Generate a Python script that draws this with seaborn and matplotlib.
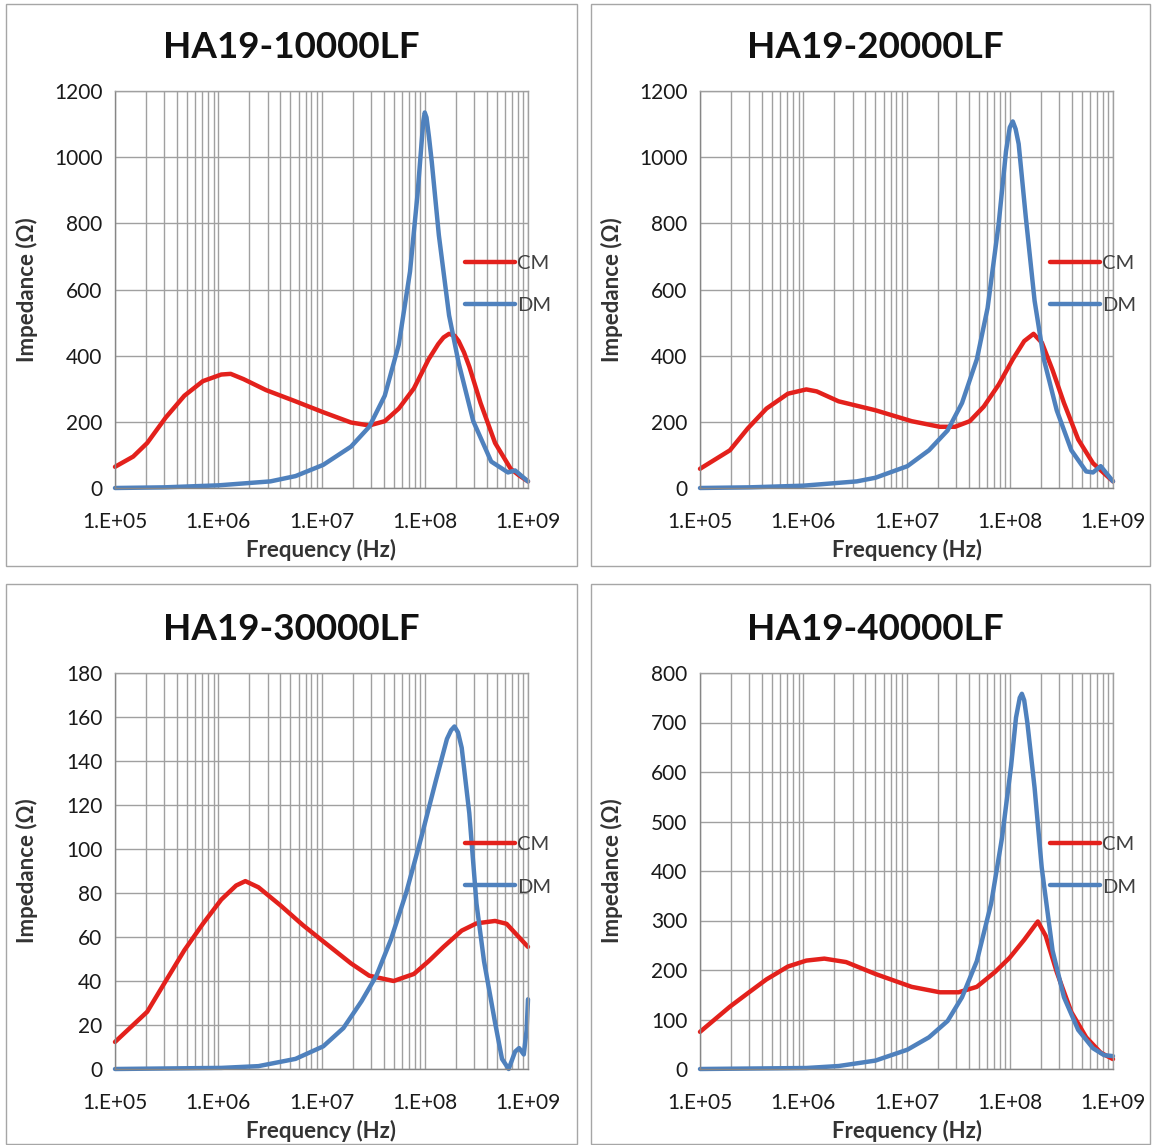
import numpy as np
import pandas as pd
import matplotlib
matplotlib.use("Agg")
import matplotlib.pyplot as plt
import seaborn as sns
from matplotlib.ticker import LogLocator
from matplotlib.patches import Rectangle

sns.set_theme(style="white")
plt.rcParams['font.family'] = ['Lato', 'DejaVu Sans']

# data (frequency in Hz, impedance in ohm)
titles = ['HA19-10000LF', 'HA19-20000LF', 'HA19-30000LF', 'HA19-40000LF']
xtick_vals = [1e5, 1e6, 1e7, 1e8, 1e9]
xtick_labels = ['1.E+05', '1.E+06', '1.E+07', '1.E+08', '1.E+09']
y_max = [1200, 1200, 180, 800]
y_step = [200, 200, 20, 100]

f_cm1 = [1e5, 1.5e5, 2.05e5, 3.1e5, 4.7e5, 7.1e5, 1.07e6, 1.32e6, 1.76e6, 2.9e6, 5.6e6, 1.04e7, 1.93e7,
         2.9e7, 4.1e7, 5.6e7, 7.85e7, 1.09e8, 1.35e8, 1.52e8, 1.72e8, 1.95e8, 2.13e8, 2.4e8, 2.7e8, 3.47e8,
         4.8e8, 6.8e8, 8.2e8, 1e9]
z_cm1 = [64, 95, 136, 213, 279, 323, 343, 345, 329, 296, 262, 229, 198,
         189, 202, 240, 301, 389, 435, 455, 466, 460, 444, 410, 367, 257,
         136, 58, 38, 20]
f_dm1 = [1e5, 3e5, 1e6, 3.2e6, 5.6e6, 1.04e7, 1.93e7, 2.9e7, 4.1e7, 5.6e7, 7.2e7, 8.5e7, 9.3e7,
         9.7e7, 1e8, 1.04e8, 1.1e8, 1.17e8, 1.37e8, 1.72e8, 2.13e8, 2.95e8, 4.4e8, 6.4e8, 7.5e8, 1e9]
z_dm1 = [0, 2, 8, 20, 36, 70, 125, 185, 279, 433, 654, 886, 1040,
         1110, 1135, 1120, 1060, 985, 764, 522, 378, 202, 80, 47, 53, 20]

f_cm2 = [1e5, 1.95e5, 2.9e5, 4.4e5, 7.1e5, 1.07e6, 1.35e6, 2.2e6, 5e6, 1.12e7, 2.1e7, 2.95e7,
         4.1e7, 5.6e7, 7.8e7, 1.07e8, 1.38e8, 1.7e8, 2.05e8, 2.6e8, 3.35e8, 4.6e8, 6.4e8, 1e9]
z_cm2 = [58, 114, 180, 240, 285, 298, 292, 262, 235, 202, 185, 185,
         202, 246, 312, 389, 444, 466, 439, 356, 257, 147, 75, 20]
f_dm2 = [1e5, 3e5, 1e6, 3.3e6, 5e6, 1.02e7, 1.65e7, 2.5e7, 3.45e7, 4.8e7, 6.1e7, 7.8e7, 9.2e7,
         1e8, 1.07e8, 1.14e8, 1.22e8, 1.43e8, 1.74e8, 2.14e8, 2.85e8, 3.95e8, 5.5e8, 6.4e8, 7.6e8, 1e9]
z_dm2 = [0, 2, 7, 20, 31, 66, 114, 174, 257, 389, 544, 797, 1018,
         1090, 1108, 1085, 1040, 819, 566, 389, 235, 114, 50, 47, 66, 20]

f_cm3 = [1e5, 2.05e5, 3.1e5, 4.7e5, 7.1e5, 1.07e6, 1.49e6, 1.83e6, 2.45e6, 4e6, 6.6e6, 1.04e7,
         1.93e7, 2.9e7, 5e7, 7.85e7, 1.09e8, 1.52e8, 2.28e8, 3.17e8, 4.8e8, 6.2e8, 8e8, 1e9]
z_cm3 = [12.3, 26, 40, 54, 66, 77, 83.4, 85.4, 82.6, 74.4, 65.4, 58,
         48, 42.4, 40, 43.2, 49, 55.5, 62.9, 66.2, 67.3, 66, 60.4, 55.5]
f_dm3 = [1e5, 1.07e6, 2.45e6, 5.6e6, 1.04e7, 1.63e7, 2.45e7, 3.4e7, 4.7e7, 6.6e7, 9.2e7, 1.28e8,
         1.64e8, 1.8e8, 1.94e8, 2.1e8, 2.28e8, 2.7e8, 3.17e8, 3.75e8, 4.8e8, 5.6e8, 6.5e8, 7.5e8,
         8.2e8, 9.1e8, 9.7e8, 1e9]
z_dm3 = [0, 0.5, 1.3, 4.6, 10.3, 18.6, 30.9, 42.4, 58.8, 80, 104.8, 131,
         150, 154, 155.7, 153, 146, 116.3, 75.2, 49, 21, 4.6, 0, 7.9,
         9.5, 6.6, 17.7, 31.7]

f_cm4 = [1e5, 1.95e5, 2.9e5, 4.4e5, 7.1e5, 1.07e6, 1.6e6, 2.6e6, 5e6, 1.12e7, 2.1e7, 3.2e7,
         4.8e7, 7.2e7, 1e8, 1.38e8, 1.87e8, 2.23e8, 2.85e8, 3.95e8, 5.5e8, 7.6e8, 1e9]
z_cm4 = [75, 126, 153, 181, 207, 219, 223, 216, 192, 166, 155, 155,
         166, 196, 225, 261, 298, 269, 196, 115, 64, 33, 20]
f_dm4 = [1e5, 1.07e6, 2.2e6, 5e6, 1.02e7, 1.65e7, 2.5e7, 3.45e7, 4.8e7, 6.6e7, 8.4e7, 1.03e8,
         1.15e8, 1.25e8, 1.31e8, 1.38e8, 1.48e8, 1.74e8, 2.04e8, 2.6e8, 3.35e8, 4.6e8, 6.4e8, 8.2e8, 1e9]
z_dm4 = [0, 2, 6, 17, 39, 64, 97, 145, 218, 334, 466, 612,
         710, 750, 758, 745, 700, 568, 407, 239, 145, 79, 42, 28, 26]

curves = [(f_cm1, z_cm1, f_dm1, z_dm1), (f_cm2, z_cm2, f_dm2, z_dm2),
          (f_cm3, z_cm3, f_dm3, z_dm3), (f_cm4, z_cm4, f_dm4, z_dm4)]

RED = '#e3211c'
BLUE = '#4f81bd'
GRID = '#a0a0a0'
W, H = 1154, 1145

fig = plt.figure(figsize=(W / 100, H / 100), dpi=100)

# pixel boxes: panel frame (l, t, r, b), plot area (l, t, r, b), title centre
frames = [(6, 4, 577, 566), (591, 4, 1150, 566), (6, 584, 577, 1144), (591, 584, 1150, 1144)]
plots = [(115, 91, 528, 488), (700, 91, 1113, 488), (115, 673, 528, 1069), (700, 673, 1113, 1069)]
title_pos = [(291, 47), (875, 47), (291, 630), (875, 630)]

for i in range(4):
    fl, ft, fr, fb = frames[i]
    fig.add_artist(Rectangle((fl / W, 1 - fb / H), (fr - fl) / W, (fb - ft) / H,
                             transform=fig.transFigure, fill=False, edgecolor='#a6a6a6', lw=1))
    l, t, r, b = plots[i]
    ax = fig.add_axes([l / W, 1 - b / H, (r - l) / W, (b - t) / H])

    fc, zc, fd, zd = curves[i]
    df = pd.concat([pd.DataFrame({'freq': fc, 'Z': zc, 'mode': 'CM'}),
                    pd.DataFrame({'freq': fd, 'Z': zd, 'mode': 'DM'})])
    sns.lineplot(data=df, x='freq', y='Z', hue='mode', palette={'CM': RED, 'DM': BLUE},
                 lw=3.2, ax=ax, estimator=None, solid_joinstyle='round', solid_capstyle='round')
    for ln in ax.lines:
        ln.set_clip_on(False)

    ax.set_xscale('log')
    ax.set_xlim(1e5, 1e9)
    ax.set_ylim(0, y_max[i])
    ax.set_yticks(np.arange(0, y_max[i] + 1, y_step[i]))
    ax.set_xticks(xtick_vals)
    ax.set_xticklabels(xtick_labels)
    ax.xaxis.set_minor_locator(LogLocator(base=10, subs=np.arange(2, 10)))

    ax.grid(True, which='major', axis='both', color=GRID, lw=1)
    ax.grid(True, which='minor', axis='x', color=GRID, lw=1)
    ax.set_axisbelow(True)
    for s in ['top', 'right']:
        ax.spines[s].set_color(GRID)
        ax.spines[s].set_linewidth(1)
    for s in ['left', 'bottom']:
        ax.spines[s].set_color('#868686')
        ax.spines[s].set_linewidth(1)

    ax.tick_params(axis='both', which='major', direction='out', length=6, width=1,
                   color='#868686', labelsize=15, labelcolor='#1a1a1a')
    ax.tick_params(axis='x', which='major', pad=11)
    ax.tick_params(axis='y', which='major', pad=3)
    ax.tick_params(which='minor', length=0)

    ax.set_xlabel('Frequency (Hz)', fontsize=16, fontweight='bold', color='#333333')
    ax.set_ylabel('Impedance (Ω)', fontsize=16, fontweight='bold', color='#333333')
    ax.xaxis.set_label_coords(0.5, -0.157)
    ax.xaxis.label.set_verticalalignment('center')
    ax.yaxis.set_label_coords(-0.213, 0.5)
    ax.yaxis.label.set_verticalalignment('center')

    sns.move_legend(ax, 'upper left', bbox_to_anchor=(0.847, 0.588), frameon=False, title=None,
                    fontsize=14.5, handlelength=2.5, handletextpad=0.1, labelspacing=1.25, borderpad=0,
                    borderaxespad=0)
    leg = ax.get_legend()
    for ln in leg.get_lines():
        ln.set_linewidth(3.2)
    for tx in leg.get_texts():
        tx.set_color('#404040')

    tx_, ty_ = title_pos[i]
    fig.text(tx_ / W, 1 - ty_ / H, titles[i], ha='center', va='center',
             fontsize=26.5, fontweight='bold', color='#111111')

fig.savefig('out.png', dpi=100)
